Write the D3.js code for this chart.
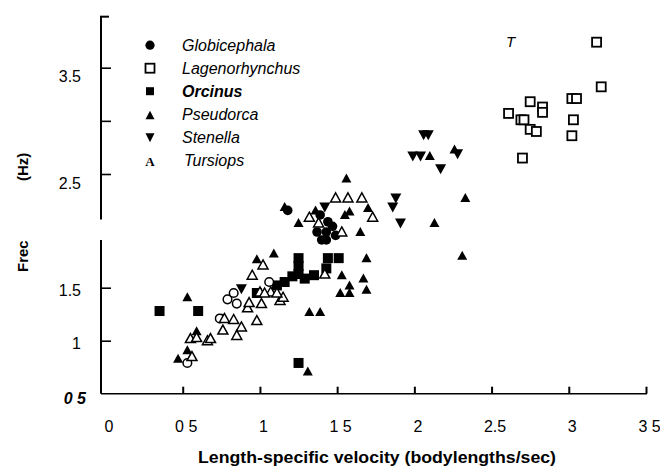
<!DOCTYPE html>
<html>
<head>
<meta charset="utf-8">
<script src="https://cdn.jsdelivr.net/npm/d3@7"></script>
<style>
  html, body { margin: 0; padding: 0; background: #fff; }
  svg { display: block; font-family: "Liberation Sans", Arial, Helvetica, sans-serif; }
</style>
</head>
<body>
<script>
// ---------- data (velocity in bodylengths/sec, frequency in Hz) ----------
const species = ["Globicephala", "Lagenorhynchus", "Orcinus", "Pseudorca", "Stenella", "Tursiops"];

const globicephala = [[1.18,2.18],[1.44,2.08],[1.43,1.99],[1.37,1.99],[1.43,1.92],[1.47,2.04],[1.39,2.14],[1.49,1.96],[1.40,1.92]];
const globicephalaOpen = [[0.53,0.79],[0.74,1.21],[0.79,1.39],[0.83,1.45],[0.85,1.35],[1.06,1.55]];
const lagenorhynchus = [[3.18,3.74],[3.21,3.32],[3.02,3.21],[3.05,3.21],[2.75,3.18],[2.83,3.13],[2.83,3.08],
  [2.61,3.07],[2.69,3.01],[2.71,3.01],[2.75,2.92],[2.79,2.90],[3.03,3.01],[3.02,2.86],[2.70,2.65]];
const orcinus = [[0.35,1.28],[0.60,1.28],[0.98,1.45],[1.11,1.52],[1.16,1.55],[1.21,1.60],[1.25,1.76],[1.25,1.69],
  [1.25,1.62],[1.29,1.58],[1.35,1.61],[1.44,1.76],[1.51,1.76],[1.43,1.67],[1.25,0.79]];
const pseudorca = [[0.53,1.41],[0.47,0.83],[0.53,0.91],[0.59,1.09],[0.76,1.21],[0.98,1.75],[1.09,1.80],[1.16,2.21],
  [1.25,2.07],[1.36,2.18],[1.56,2.46],[1.58,2.17],[1.55,2.14],[1.65,1.99],[1.70,2.20],[1.53,1.61],[1.52,1.45],
  [1.58,1.52],[1.58,1.45],[1.67,1.58],[1.69,1.48],[1.69,1.76],[1.32,1.27],[1.39,1.27],[1.31,0.71],[2.10,2.67],
  [2.26,2.73],[2.13,2.07],[2.33,2.29],[2.31,1.78]];
const stenella = [[2.06,2.87],[2.09,2.87],[1.99,2.67],[2.04,2.67],[2.17,2.55],[2.28,2.69],[1.88,2.29],[1.86,2.21],
  [1.91,2.07],[1.42,2.21],[0.88,1.49]];
const tursiops = [[0.55,1.02],[0.59,1.03],[0.66,1.00],[0.68,1.02],[0.56,0.85],[0.77,1.21],[0.76,1.10],[0.83,1.20],
  [0.88,1.13],[0.85,1.05],[0.92,1.31],[0.93,1.36],[0.98,1.19],[0.95,1.61],[1.01,1.35],[1.00,1.46],[1.02,1.70],
  [1.13,1.38],[1.15,1.41],[1.07,1.46],[1.03,1.45],[1.11,1.45],[1.42,1.62],[1.32,2.12],[1.38,2.07],[1.53,1.99],
  [1.49,2.29],[1.57,2.29],[1.66,2.29],[1.73,2.12]];

const xTicks = [0, 0.5, 1, 1.5, 2, 2.5, 3, 3.5];
const xTickLabels = ["0", "0 5", "1", "1 5", "2", "2.5", "3", "3 5"];
const yTicks = [0.5, 1, 1.5, 2.5, 3, 3.5];
const yTickLabels = ["0 5", "1", "1.5", "2.5", "", "3.5"];
// broken y axis: lower piece ends, upper piece starts, axis top
const yBreakLow = 1.92, yBreakHigh = 2.1, yTop = 3.98;

// ---------- scales ----------
const W = 660, H = 467;
const x = d3.scaleLinear().domain([0, 3.5]).range([105.5, 646]);
const y = d3.scaleLinear().domain([0.5, 1.5, 2.5, 3.5]).range([393.7, 287.7, 174, 67.7]);
const axisX0 = 101, axisX1 = 647;

const svg = d3.select("body").append("svg").attr("width", W).attr("height", H);
svg.append("rect").attr("width", W).attr("height", H).attr("fill", "#fff");

// ---------- axes ----------
const gx = svg.append("g").attr("transform", `translate(0,${y(0.5)})`)
  .call(d3.axisBottom(x).tickValues(xTicks).tickSize(-7).tickFormat((d, i) => xTickLabels[i]));
gx.select(".domain").remove();
gx.selectAll(".tick line").attr("stroke", "#000").attr("stroke-width", 2);
gx.selectAll(".tick").filter(d => d === 0).select("line").remove();
gx.selectAll(".tick text").attr("y", 38).attr("dy", 0).attr("x", 3)
  .attr("font-size", 16).attr("fill", "#000").attr("font-family", '"Liberation Sans", Arial, sans-serif');
svg.append("line").attr("x1", axisX0).attr("x2", axisX1).attr("y1", y(0.5)).attr("y2", y(0.5))
  .attr("stroke", "#000").attr("stroke-width", 1.6);

const gy = svg.append("g").attr("transform", `translate(${axisX0},0)`)
  .call(d3.axisLeft(y).tickValues(yTicks).tickSize(-10).tickFormat((d, i) => yTickLabels[i]));
gy.select(".domain").remove();
gy.selectAll(".tick line").attr("stroke", "#000").attr("stroke-width", 1.6);
gy.selectAll(".tick").filter(d => d === 0.5).select("line").remove();
gy.selectAll(".tick text").attr("x", -20).attr("dy", d => d > 2 ? 14 : 7.5)
  .attr("font-size", 16).attr("fill", "#000").attr("font-family", '"Liberation Sans", Arial, sans-serif');
gy.selectAll(".tick text").filter(d => d === 0.5)
  .attr("font-style", "italic").attr("font-weight", "bold").attr("x", -15).attr("dy", 9.5);

svg.append("line").attr("x1", axisX0).attr("x2", axisX0).attr("y1", y(0.5)).attr("y2", y(yBreakLow))
  .attr("stroke", "#000").attr("stroke-width", 2);
svg.append("line").attr("x1", axisX0).attr("x2", axisX0).attr("y1", y(yBreakHigh)).attr("y2", y(yTop))
  .attr("stroke", "#000").attr("stroke-width", 2);
svg.append("line").attr("x1", axisX0 - 1).attr("x2", axisX0 + 8).attr("y1", y(yTop)).attr("y2", y(yTop))
  .attr("stroke", "#000").attr("stroke-width", 2);

// axis titles
svg.append("text").attr("x", 198).attr("y", 463).attr("font-size", 16).attr("font-weight", "bold")
  .attr("textLength", 358).attr("lengthAdjust", "spacingAndGlyphs")
  .text("Length-specific velocity (bodylengths/sec)");
svg.append("text").attr("transform", "translate(28,272) rotate(-90)").attr("font-size", 15)
  .attr("font-weight", "bold").text("Frec");
svg.append("text").attr("transform", "translate(28,181) rotate(-90)").attr("font-size", 15)
  .attr("font-weight", "bold").text("(Hz)");
svg.append("text").attr("x", 506).attr("y", 47).attr("font-size", 15).attr("font-style", "italic").text("T");

// ---------- markers ----------
const triUp = "M0,-5L5,4L-5,4Z";
const triDown = "M0,5.5L5.5,-4.5L-5.5,-4.5Z";
const plot = svg.append("g");

function pts(data) { return plot.append("g").selectAll("*").data(data).enter(); }

pts(globicephala).append("circle").attr("cx", d => x(d[0])).attr("cy", d => y(d[1])).attr("r", 4.8).attr("fill", "#000");
pts(orcinus).append("rect").attr("x", d => x(d[0]) - 5).attr("y", d => y(d[1]) - 5)
  .attr("width", 10).attr("height", 10).attr("fill", "#000");
pts(pseudorca).append("path").attr("d", triUp).attr("transform", d => `translate(${x(d[0])},${y(d[1])})`).attr("fill", "#000");
pts(stenella).append("path").attr("d", triDown).attr("transform", d => `translate(${x(d[0])},${y(d[1])})`).attr("fill", "#000");
pts(globicephalaOpen).append("circle").attr("cx", d => x(d[0])).attr("cy", d => y(d[1])).attr("r", 4.3)
  .attr("fill", "#fff").attr("stroke", "#000").attr("stroke-width", 1.5);
pts(tursiops).append("path").attr("d", triUp).attr("transform", d => `translate(${x(d[0])},${y(d[1])})`)
  .attr("fill", "#fff").attr("stroke", "#000").attr("stroke-width", 1.5).attr("stroke-linejoin", "miter");
pts(lagenorhynchus).append("rect").attr("x", d => x(d[0]) - 4.5).attr("y", d => y(d[1]) - 4.5)
  .attr("width", 9).attr("height", 9).attr("fill", "#fff").attr("stroke", "#000").attr("stroke-width", 1.8);

// ---------- legend ----------
const leg = svg.append("g");
species.forEach((name, i) => {
  const base = 50.7 + i * 23;
  const cy = base - 5.5;
  const g = leg.append("g");
  if (name === "Globicephala") g.append("circle").attr("cx", 150).attr("cy", cy).attr("r", 4.6).attr("fill", "#000");
  if (name === "Lagenorhynchus") g.append("rect").attr("x", 145.5).attr("y", cy - 4.5).attr("width", 9).attr("height", 9)
    .attr("fill", "#fff").attr("stroke", "#000").attr("stroke-width", 1.8);
  if (name === "Orcinus") g.append("rect").attr("x", 146).attr("y", cy - 4).attr("width", 8).attr("height", 8).attr("fill", "#000");
  if (name === "Pseudorca") g.append("path").attr("d", "M0,-4.5L4.5,4L-4.5,4Z").attr("transform", `translate(150,${cy + 1})`).attr("fill", "#000");
  if (name === "Stenella") g.append("path").attr("d", "M0,5L4.5,-4L-4.5,-4Z").attr("transform", `translate(150,${cy})`).attr("fill", "#000");
  if (name === "Tursiops") g.append("text").attr("x", 150).attr("y", base).attr("text-anchor", "middle")
    .attr("font-family", '"Liberation Serif", "DejaVu Serif", serif').attr("font-size", 13).attr("font-weight", "bold").text("A");
  g.append("text").attr("x", name === "Tursiops" ? 184 : 182).attr("y", base).attr("font-size", 16)
    .attr("font-style", "italic").attr("font-weight", name === "Orcinus" ? "bold" : "normal").text(name);
});
</script>
</body>
</html>
